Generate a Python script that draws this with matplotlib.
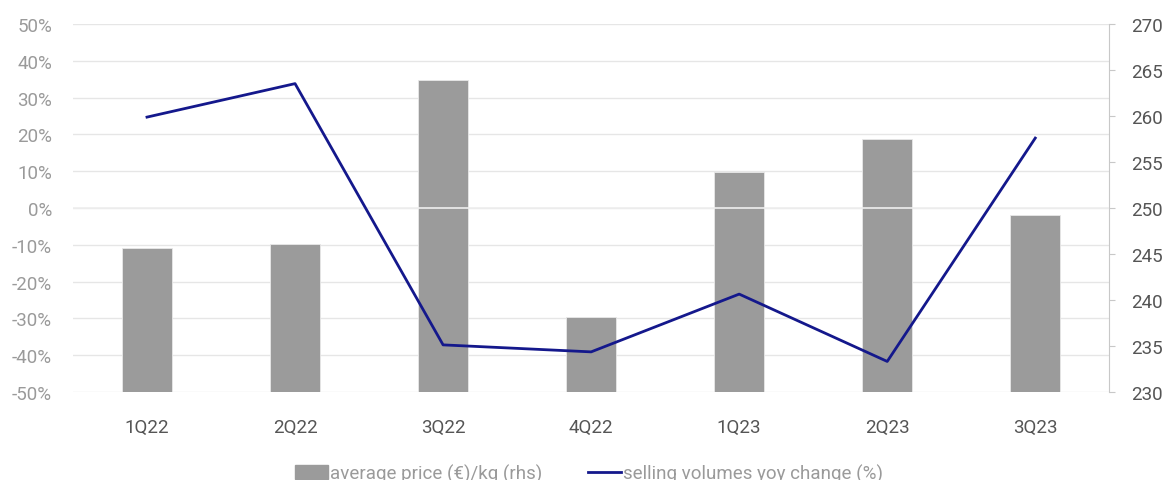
import matplotlib
matplotlib.use('Agg')
import matplotlib.pyplot as plt
from matplotlib.ticker import FuncFormatter

plt.rcParams['font.family'] = ['Roboto', 'DejaVu Sans']

# data
quarters = ['1Q22', '2Q22', '3Q22', '4Q22', '1Q23', '2Q23', '3Q23']
avg_price = [245.7, 246.1, 263.9, 238.1, 253.9, 257.5, 249.2]   # rhs, €/kg
volume_yoy = [24.7, 33.8, -37.2, -39.1, -23.4, -41.7, 19.0]     # lhs, %

fig = plt.figure(figsize=(11.64, 4.81), dpi=100)
ax = fig.add_axes([0.0627, 0.183, 0.8903, 0.765])
ax2 = ax.twinx()

x = range(len(quarters))

# bars on the right axis, drawn behind the line
ax2.bar(x, [p - 230 for p in avg_price], bottom=230, width=0.34,
        color='#9b9b9b', edgecolor='#e8e8e8', linewidth=0.6, zorder=2)
ax2.set_ylim(230, 270)
ax2.set_yticks(range(230, 271, 5))

# zero line sits over the bars
ax2.axhline(250, color='#eeeeee', linewidth=1.2, zorder=3)

ax.set_zorder(ax2.get_zorder() + 1)
ax.patch.set_visible(False)
ax.plot(x, volume_yoy, color='#14188c', linewidth=2, zorder=4)
ax.set_ylim(-50, 50)
ax.set_yticks(range(-50, 51, 10))
ax.yaxis.set_major_formatter(FuncFormatter(lambda v, _: f'{int(v)}%'))
ax.set_xlim(-0.5, len(quarters) - 0.5)
ax.set_xticks(list(x))
ax.set_xticklabels(quarters)

# gridlines belong to the back axis so they stay behind bars
for v in range(-50, 51, 10):
    ax2.axhline(230 + (v + 50) * 0.4, color='#e6e6e6', linewidth=1, zorder=1)

for s in ax.spines.values():
    s.set_visible(False)
for s in ax2.spines.values():
    s.set_visible(False)
ax2.spines['right'].set_visible(True)
ax2.spines['right'].set_color('#c8c8c8')

fs = 13.5
ax.tick_params(axis='y', length=0, labelsize=fs, labelcolor='#9a9a9a', pad=15)
ax.tick_params(axis='x', length=0, labelsize=fs, labelcolor='#555555', pad=19)
ax2.tick_params(axis='y', length=4, color='#c8c8c8', labelsize=fs,
                labelcolor='#555555', pad=12)

# legend at the bottom, partly cut by the figure edge (as in the source)
h1 = plt.Rectangle((0, 0), 1, 1, color='#9b9b9b')
h2 = plt.Line2D([], [], color='#14188c', linewidth=2)
fig.legend([h1, h2], ['average price (€)/kg (rhs)', 'selling volumes yoy change (%)'],
           loc='center', bbox_to_anchor=(0.506, 0.014), ncol=2, frameon=False,
           fontsize=fs, labelcolor='#9a9a9a', handlelength=1.8, handletextpad=0.1,
           columnspacing=2.4)

fig.savefig('out.png', dpi=100)
